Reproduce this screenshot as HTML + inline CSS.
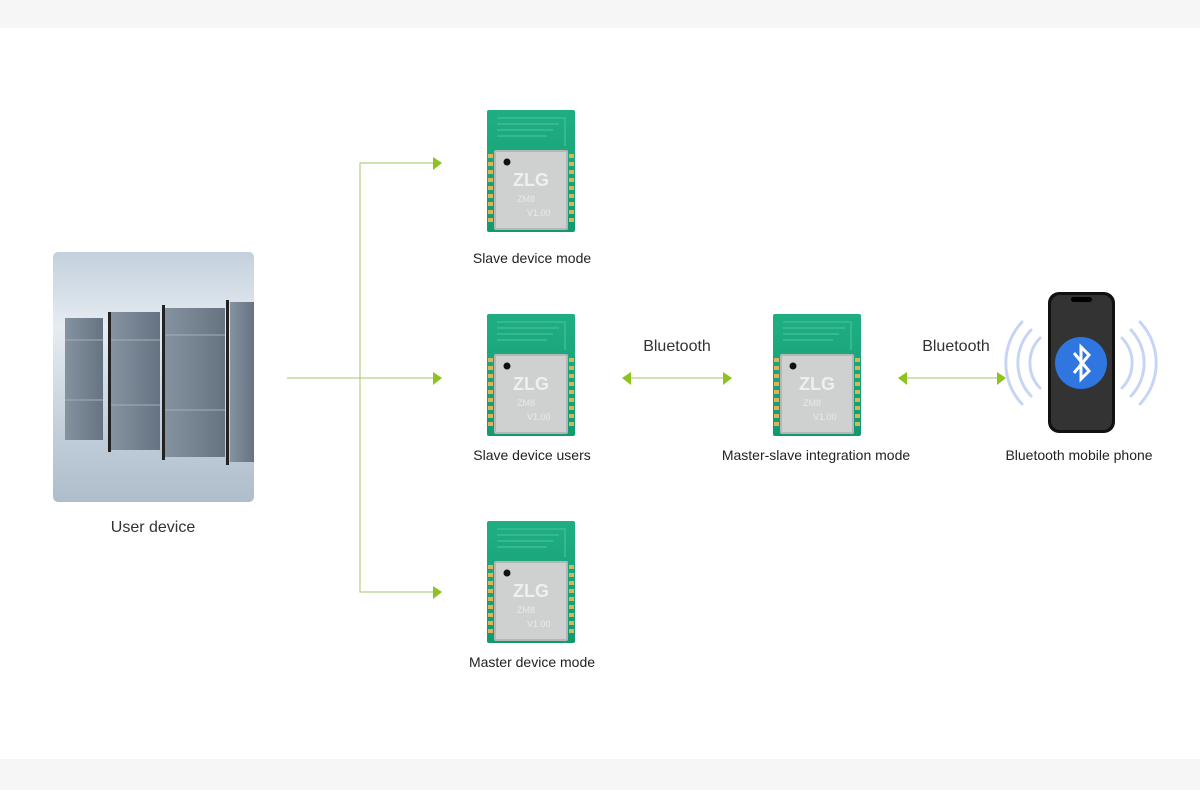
<!DOCTYPE html>
<html><head><meta charset="utf-8"><style>
body{margin:0;width:1200px;height:790px;background:#fff;position:relative;overflow:hidden;font-family:"Liberation Sans",sans-serif;}
.band{position:absolute;left:0;width:1200px;background:#f6f6f6}
.lbl{position:absolute;font-size:14px;color:#222;text-align:center;white-space:nowrap;transform:translateX(-50%)}
</style></head><body>
<div class="band" style="top:0;height:28px"></div>
<div class="band" style="top:759px;height:31px"></div>

<svg width="1200" height="790" style="position:absolute;left:0;top:0">
<defs>
<linearGradient id="srv" x1="0" y1="0" x2="0" y2="1"><stop offset="0" stop-color="#c3d0dd"/><stop offset="0.3" stop-color="#e6ecf1"/><stop offset="0.75" stop-color="#c0ccd8"/><stop offset="1" stop-color="#aebdcc"/></linearGradient>
<linearGradient id="rk" x1="0" y1="0" x2="1" y2="0"><stop offset="0" stop-color="#8592a0"/><stop offset="1" stop-color="#667382"/></linearGradient>
<linearGradient id="pcb" x1="0" y1="0" x2="0" y2="1"><stop offset="0" stop-color="#1fae82"/><stop offset="1" stop-color="#119a70"/></linearGradient>
<g id="module">
 <rect x="0" y="0" width="88" height="122" rx="2" fill="url(#pcb)"/>
 <path d="M10 8 H78 V36 M10 14 H72 M10 20 H66 M10 26 H60" stroke="#35b991" stroke-width="2" fill="none"/>
 <g fill="#d8b45a">
  <rect x="1" y="44" width="5" height="4"/><rect x="1" y="52" width="5" height="4"/><rect x="1" y="60" width="5" height="4"/><rect x="1" y="68" width="5" height="4"/><rect x="1" y="76" width="5" height="4"/><rect x="1" y="84" width="5" height="4"/><rect x="1" y="92" width="5" height="4"/><rect x="1" y="100" width="5" height="4"/><rect x="1" y="108" width="5" height="4"/>
  <rect x="82" y="44" width="5" height="4"/><rect x="82" y="52" width="5" height="4"/><rect x="82" y="60" width="5" height="4"/><rect x="82" y="68" width="5" height="4"/><rect x="82" y="76" width="5" height="4"/><rect x="82" y="84" width="5" height="4"/><rect x="82" y="92" width="5" height="4"/><rect x="82" y="100" width="5" height="4"/><rect x="82" y="108" width="5" height="4"/>
 </g>
 <rect x="7" y="40" width="74" height="80" rx="2" fill="#b4b7b7"/>
 <rect x="9" y="42" width="70" height="76" fill="#cfd1d1"/>
 <circle cx="20" cy="52" r="3.5" fill="#111"/>
 <text x="44" y="76" font-size="18" font-weight="bold" fill="#eef0f0" text-anchor="middle" font-family="Liberation Sans,sans-serif">ZLG</text>
 <text x="30" y="92" font-size="9" fill="#e8eaea" font-family="Liberation Sans,sans-serif">ZM8</text>
 <text x="40" y="106" font-size="9" fill="#e8eaea" font-family="Liberation Sans,sans-serif">V1.00</text>
</g>
</defs>

<rect x="53" y="252" width="201" height="250" rx="5" fill="url(#srv)"/>
<g>
<rect x="65" y="318" width="38" height="122" fill="url(#rk)"/>
<rect x="111" y="312" width="49" height="138" fill="url(#rk)"/>
<rect x="165" y="308" width="60" height="149" fill="url(#rk)"/>
<rect x="230" y="302" width="24" height="160" fill="url(#rk)"/>
<rect x="108" y="312" width="3" height="140" fill="#222"/>
<rect x="162" y="305" width="3" height="155" fill="#222"/>
<rect x="226" y="300" width="3" height="165" fill="#222"/>
<g stroke="#a2aebb" stroke-width="1">
<line x1="65" y1="340" x2="103" y2="340"/><line x1="65" y1="400" x2="103" y2="400"/>
<line x1="111" y1="340" x2="160" y2="340"/><line x1="111" y1="405" x2="160" y2="405"/>
<line x1="165" y1="335" x2="225" y2="335"/><line x1="165" y1="410" x2="225" y2="410"/>
</g>
</g>

<g stroke="#b5cf86" stroke-width="1.2" fill="none">
<line x1="287" y1="378" x2="434" y2="378"/>
<polyline points="434,163 360,163 360,592 434,592"/>
<line x1="628" y1="378" x2="726" y2="378"/>
<line x1="904" y1="378" x2="999" y2="378"/>
</g>
<g fill="#8dc21f">
<polygon points="433,157 442,163 433,170"/>
<polygon points="433,372 442,378 433,385"/>
<polygon points="433,586 442,592 433,599"/>
<polygon points="622,378 631,372 631,385"/>
<polygon points="732,378 723,372 723,385"/>
<polygon points="898,378 907,372 907,385"/>
<polygon points="1006,378 997,372 997,385"/>
</g>

<use href="#module" x="487" y="110"/>
<use href="#module" x="487" y="314"/>
<use href="#module" x="487" y="521"/>
<use href="#module" x="773" y="314"/>

<g fill="none" stroke="#c7d5f5" stroke-width="3" stroke-linecap="round">
<path d="M1040 338 A36 36 0 0 0 1040 388"/>
<path d="M1031 330 A48 48 0 0 0 1031 396"/>
<path d="M1022 322 A60 60 0 0 0 1022 404"/>
<path d="M1122 338 A36 36 0 0 1 1122 388"/>
<path d="M1131 330 A48 48 0 0 1 1131 396"/>
<path d="M1140 322 A60 60 0 0 1 1140 404"/>
</g>
<rect x="1048" y="292" width="67" height="141" rx="11" fill="#111"/>
<rect x="1051" y="295" width="61" height="135" rx="9" fill="#333"/>
<rect x="1071" y="297" width="21" height="5" rx="2.5" fill="#000"/>
<circle cx="1081" cy="363" r="26" fill="#2f76e0"/>
<path d="M1074 353 L1089 371 L1081 379 L1081 347 L1089 355 L1074 373" stroke="#fff" stroke-width="3" fill="none"/>
</svg>

<div class="lbl" style="left:532px;top:250px">Slave device mode</div>
<div class="lbl" style="left:532px;top:447px">Slave device users</div>
<div class="lbl" style="left:532px;top:654px">Master device mode</div>
<div class="lbl" style="left:816px;top:447px">Master-slave integration mode</div>
<div class="lbl" style="left:1079px;top:447px">Bluetooth mobile phone</div>
<div class="lbl" style="left:153px;top:519px;font-size:16px;color:#333">User device</div>
<div class="lbl" style="left:677px;top:338px;font-size:16px;color:#333">Bluetooth</div>
<div class="lbl" style="left:956px;top:338px;font-size:16px;color:#333">Bluetooth</div>
</body></html>
